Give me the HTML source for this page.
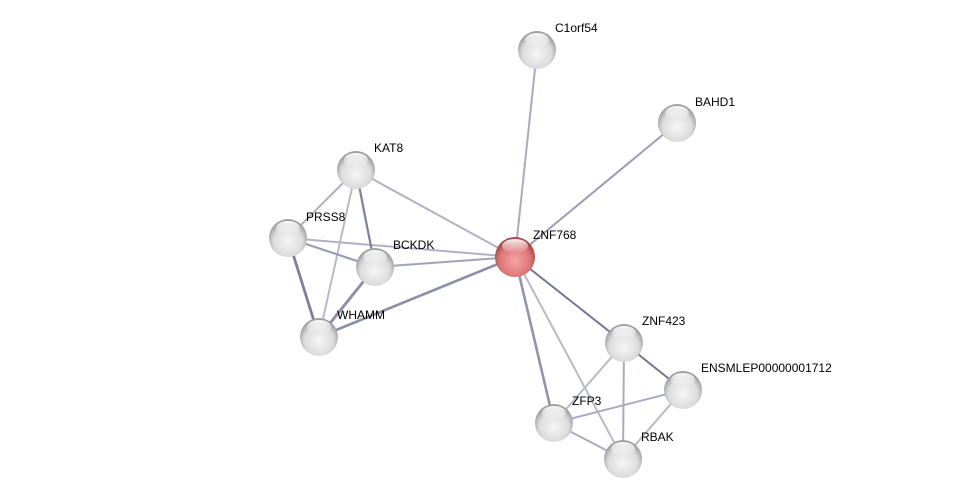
<!DOCTYPE html>
<html><head><style>body{margin:0;background:#fff}svg{display:block}text{font-family:"Liberation Sans",sans-serif;font-size:12px;fill:#000}</style></head><body>
<svg width="975" height="504" viewBox="0 0 975 504">
<defs>
<radialGradient id="g" cx="50%" cy="60%" r="55%"><stop offset="0" stop-color="#f6f6f6"/><stop offset="0.7" stop-color="#dcdcdc"/><stop offset="1" stop-color="#a0a0a0"/></radialGradient>
<radialGradient id="r" cx="50%" cy="60%" r="55%"><stop offset="0" stop-color="#f4a5a5"/><stop offset="0.7" stop-color="#dd7777"/><stop offset="1" stop-color="#a84646"/></radialGradient>
<linearGradient id="h" x1="0" y1="0" x2="0" y2="1"><stop offset="0" stop-color="#fff" stop-opacity="0.95"/><stop offset="1" stop-color="#fff" stop-opacity="0"/></linearGradient>
</defs>
<g stroke-linecap="round">
<line x1="515" y1="257" x2="537" y2="50" stroke="#a8acc0" stroke-width="2"/>
<line x1="515" y1="257" x2="677" y2="123" stroke="#9a9eb4" stroke-width="2"/>
<line x1="515" y1="257" x2="356" y2="170" stroke="#b0b2c4" stroke-width="2"/>
<line x1="515" y1="257" x2="288" y2="238" stroke="#b0b2c4" stroke-width="2"/>
<line x1="515" y1="257" x2="375" y2="267" stroke="#a0a4b8" stroke-width="2"/>
<line x1="515" y1="257" x2="319" y2="337" stroke="#8c90a8" stroke-width="2.6"/>
<line x1="515" y1="257" x2="624" y2="343" stroke="#707690" stroke-width="2"/>
<line x1="515" y1="257" x2="554" y2="423" stroke="#9094ac" stroke-width="2.6"/>
<line x1="515" y1="257" x2="623" y2="459" stroke="#b8bac8" stroke-width="2"/>
<line x1="356" y1="170" x2="288" y2="238" stroke="#b0b2c4" stroke-width="2"/>
<line x1="356" y1="170" x2="375" y2="267" stroke="#7c8098" stroke-width="2.2"/>
<line x1="356" y1="170" x2="319" y2="337" stroke="#b8bac8" stroke-width="2"/>
<line x1="288" y1="238" x2="375" y2="267" stroke="#9a9eb4" stroke-width="2.2"/>
<line x1="288" y1="238" x2="319" y2="337" stroke="#7c8098" stroke-width="2.8"/>
<line x1="375" y1="267" x2="319" y2="337" stroke="#8c90a8" stroke-width="3"/>
<line x1="624" y1="343" x2="683" y2="390" stroke="#70768e" stroke-width="2"/>
<line x1="624" y1="343" x2="554" y2="423" stroke="#b8bac8" stroke-width="2"/>
<line x1="624" y1="343" x2="623" y2="459" stroke="#a8acc0" stroke-width="2"/>
<line x1="683" y1="390" x2="554" y2="423" stroke="#a8acc0" stroke-width="2"/>
<line x1="683" y1="390" x2="623" y2="459" stroke="#b8bac8" stroke-width="2"/>
<line x1="554" y1="423" x2="623" y2="459" stroke="#a8acc0" stroke-width="2"/>
</g>
<g>
<g transform="translate(537,50)"><circle r="19" fill="url(#g)"/><ellipse cx="0" cy="-10" rx="12" ry="7" fill="url(#h)"/></g>
<g transform="translate(677,123)"><circle r="19" fill="url(#g)"/><ellipse cx="0" cy="-10" rx="12" ry="7" fill="url(#h)"/></g>
<g transform="translate(356,170)"><circle r="19" fill="url(#g)"/><ellipse cx="0" cy="-10" rx="12" ry="7" fill="url(#h)"/></g>
<g transform="translate(288,238)"><circle r="19" fill="url(#g)"/><ellipse cx="0" cy="-10" rx="12" ry="7" fill="url(#h)"/></g>
<g transform="translate(375,267)"><circle r="19" fill="url(#g)"/><ellipse cx="0" cy="-10" rx="12" ry="7" fill="url(#h)"/></g>
<g transform="translate(319,337)"><circle r="19" fill="url(#g)"/><ellipse cx="0" cy="-10" rx="12" ry="7" fill="url(#h)"/></g>
<g transform="translate(515,257)"><circle r="20" fill="url(#r)"/><ellipse cx="0" cy="-11" rx="13" ry="7" fill="url(#h)"/></g>
<g transform="translate(624,343)"><circle r="19" fill="url(#g)"/><ellipse cx="0" cy="-10" rx="12" ry="7" fill="url(#h)"/></g>
<g transform="translate(683,390)"><circle r="19" fill="url(#g)"/><ellipse cx="0" cy="-10" rx="12" ry="7" fill="url(#h)"/></g>
<g transform="translate(554,423)"><circle r="19" fill="url(#g)"/><ellipse cx="0" cy="-10" rx="12" ry="7" fill="url(#h)"/></g>
<g transform="translate(623,459)"><circle r="19" fill="url(#g)"/><ellipse cx="0" cy="-10" rx="12" ry="7" fill="url(#h)"/></g>
</g>
<g>
<text x="555" y="32">C1orf54</text>
<text x="695" y="106">BAHD1</text>
<text x="374" y="152">KAT8</text>
<text x="306" y="221">PRSS8</text>
<text x="393" y="249">BCKDK</text>
<text x="337" y="319">WHAMM</text>
<text x="533" y="239">ZNF768</text>
<text x="642" y="325">ZNF423</text>
<text x="701" y="372">ENSMLEP00000001712</text>
<text x="572" y="405">ZFP3</text>
<text x="641" y="441">RBAK</text>
</g>
</svg>
</body></html>
